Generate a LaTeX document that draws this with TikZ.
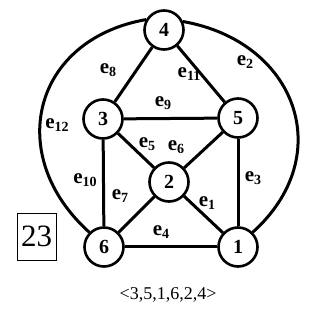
\documentclass[tikz,border=0pt]{standalone}
\usepackage{fontspec}
\setmainfont{Liberation Serif}
\tikzset{vert/.style={draw, circle, line width=2.6pt, minimum size=39pt, inner sep=0pt,
             font=\fontsize{20}{20}\selectfont\bfseries},
         edge/.style={line width=3pt},
         elabel/.style={font=\fontsize{21}{21}\selectfont\bfseries, inner sep=0pt}}
\newcommand{\elab}[1]{e\raisebox{-0.3ex}{\fontsize{14}{14}\selectfont #1}}

\begin{document}
\begin{tikzpicture}[x=1pt,y=1pt]
  \useasboundingbox (0,0) rectangle (320,321);
  % vertices
  \node[vert] (n4) at (164,291) {4};
  \node[vert] (n3) at (103,202) {3};
  \node[vert] (n5) at (238,203) {5};
  \node[vert] (n2) at (169,139) {2};
  \node[vert] (n6) at (104,74)  {6};
  \node[vert] (n1) at (238,74)  {1};
  % edges
  \draw[edge] (n4) -- (n3);
  \draw[edge] (n4) -- (n5);
  \draw[edge] (n3) -- (n5);
  \draw[edge] (n3) -- (n2);
  \draw[edge] (n5) -- (n2);
  \draw[edge] (n3) -- (n6);
  \draw[edge] (n5) -- (n1);
  \draw[edge] (n6) -- (n2);
  \draw[edge] (n2) -- (n1);
  \draw[edge] (n6) -- (n1);
  \draw[edge] (n4.150) .. controls +(190:115) and +(138:115) .. (n6.135);
  \draw[edge] (n4.24) .. controls +(-10:115) and +(42:115) .. (n1.45);
  % edge labels
  \node[elabel] (l8)  at (108,251) {\elab{8}};
  \node[elabel] (l11) at (189,247) {\elab{11}};
  \node[elabel] (l2)  at (245,259) {\elab{2}};
  \node[elabel] (l9)  at (163,218) {\elab{9}};
  \node[elabel] (l12) at (57,196)  {\elab{12}};
  \node[elabel] (l5)  at (147,177) {\elab{5}};
  \node[elabel] (l6)  at (176,174) {\elab{6}};
  \node[elabel] (l10) at (85,141)  {\elab{10}};
  \node[elabel] (l7)  at (120,125) {\elab{7}};
  \node[elabel] (l1)  at (207,118) {\elab{1}};
  \node[elabel] (l3)  at (253,143) {\elab{3}};
  \node[elabel] (l4)  at (161,89)  {\elab{4}};
  % number and sequence
  \node[draw, line width=0.8pt, minimum width=39pt, minimum height=47pt, inner sep=0pt,
        font=\fontsize{31}{31}\selectfont] (num) at (36.5,84.5) {23};
  \node[font=\fontsize{18}{18}\selectfont] (seq) at (168,26) {<3,5,1,6,2,4>};
\end{tikzpicture}
\end{document}
